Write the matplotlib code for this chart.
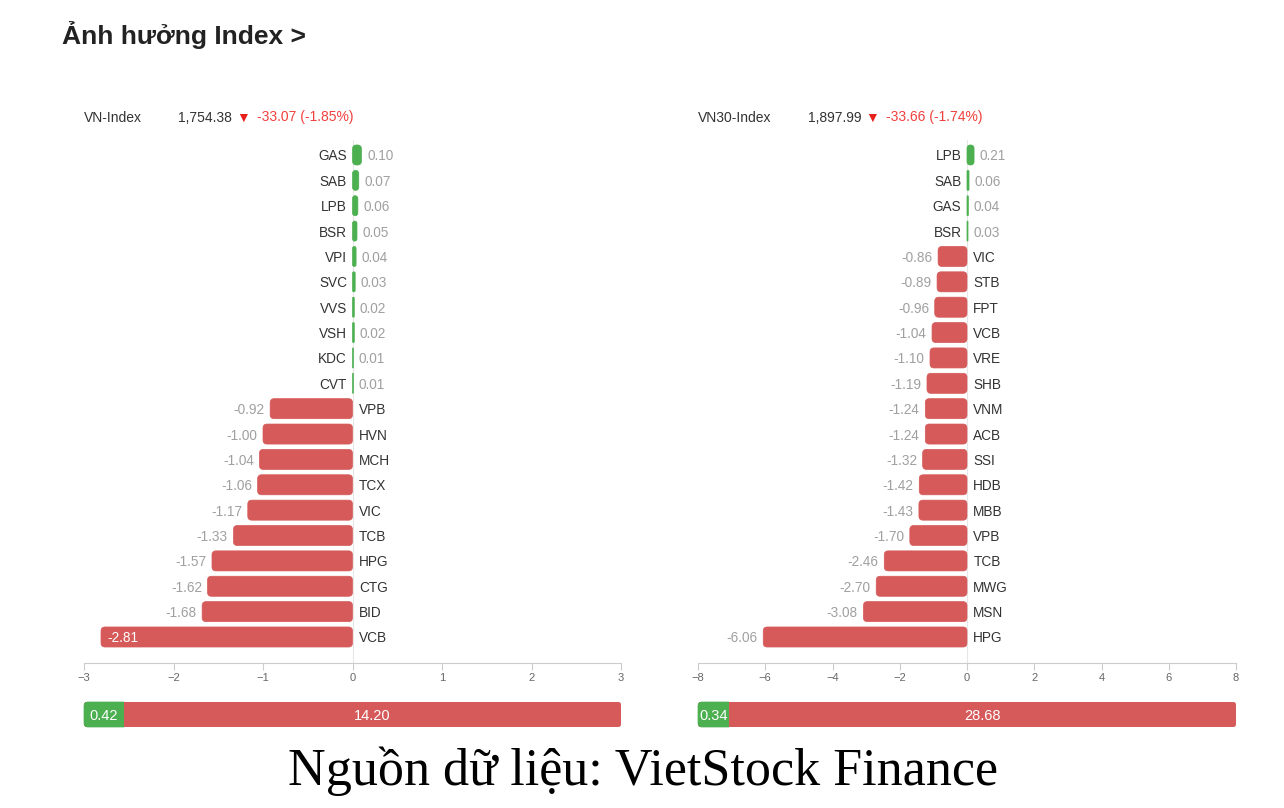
import matplotlib
matplotlib.use('Agg')
import matplotlib.pyplot as plt
from matplotlib.patches import FancyBboxPatch, Rectangle

plt.rcParams['font.family'] = ['Liberation Sans', 'DejaVu Sans']

# ---- data ----
vn_tickers = ['GAS', 'SAB', 'LPB', 'BSR', 'VPI', 'SVC', 'VVS', 'VSH', 'KDC', 'CVT',
              'VPB', 'HVN', 'MCH', 'TCX', 'VIC', 'TCB', 'HPG', 'CTG', 'BID', 'VCB']
vn_values = [0.10, 0.07, 0.06, 0.05, 0.04, 0.03, 0.02, 0.02, 0.01, 0.01,
             -0.92, -1.00, -1.04, -1.06, -1.17, -1.33, -1.57, -1.62, -1.68, -2.81]

vn30_tickers = ['LPB', 'SAB', 'GAS', 'BSR', 'VIC', 'STB', 'FPT', 'VCB', 'VRE', 'SHB',
                'VNM', 'ACB', 'SSI', 'HDB', 'MBB', 'VPB', 'TCB', 'MWG', 'MSN', 'HPG']
vn30_values = [0.21, 0.06, 0.04, 0.03, -0.86, -0.89, -0.96, -1.04, -1.10, -1.19,
               -1.24, -1.24, -1.32, -1.42, -1.43, -1.70, -2.46, -2.70, -3.08, -6.06]

index_names = ['VN-Index', 'VN30-Index']
index_levels = ['1,754.38', '1,897.99']
index_changes = ['-33.07 (-1.85%)', '-33.66 (-1.74%)']
up_totals = [0.42, 0.34]
down_totals = [14.20, 28.68]
x_limits = [3, 8]

RED = '#d65a5a'
GREEN = '#4caf50'
W, H = 1284, 808


def fx(px):
    return px / W


def fy(py):
    return 1 - py / H


def rounded(ax, rect, color, radius_px):
    # swap a plain bar for a rounded one with the same geometry
    x0, y0 = ax.transData.transform((0, 0))
    x1, y1 = ax.transData.transform((1, 1))
    px, py = abs(x1 - x0), abs(y1 - y0)
    x, y, w, h = rect.get_x(), rect.get_y(), rect.get_width(), rect.get_height()
    if w < 0:
        x, w = x + w, -w
    r = min(radius_px / px, w / 2)
    p = FancyBboxPatch((x, y), w, h, boxstyle=f'round,pad=0,rounding_size={r}',
                       mutation_aspect=px / py, facecolor=color, edgecolor=color,
                       linewidth=0.5, zorder=3)
    ax.add_patch(p)
    rect.set_visible(False)
    return p


fig = plt.figure(figsize=(W / 100, H / 100), dpi=100)

fig.text(fx(62), fy(35), 'Ảnh hưởng Index >', fontsize=19, fontweight='bold',
         color='#222222', va='center', ha='left')

panels = [(84, 621, vn_tickers, vn_values, 0.074, (178, 236, 257)),
          (698, 1236, vn30_tickers, vn30_values, 0.058, (808, 865, 886))]

for k, (x0, x1, tickers, values, min_share, hx) in enumerate(panels):
    # header
    fig.text(fx(x0), fy(116), index_names[k], fontsize=10, color='#333333', va='center_baseline')
    fig.text(fx(hx[0]), fy(116), index_levels[k], fontsize=10, color='#333333', va='center_baseline')
    fig.text(fx(hx[1]), fy(116), '▼', fontsize=10, color='#e8201c', va='center_baseline')
    fig.text(fx(hx[2]), fy(116), index_changes[k], fontsize=10, color='#f0403c', va='center_baseline')

    ax = fig.add_axes([fx(x0), fy(663), fx(x1 - x0), (663 - 140) / H])
    lim = x_limits[k]
    ax.set_xlim(-lim, lim)
    ax.set_ylim(20.025, -0.591)
    ax.set_xticks(range(-lim, lim + 1, 1 if lim <= 3 else 2))
    ax.set_yticks([])
    for s in ['top', 'left', 'right']:
        ax.spines[s].set_visible(False)
    ax.spines['bottom'].set_color('#cccccc')
    ax.tick_params(axis='x', direction='out', length=5, color='#cccccc',
                   labelcolor='#666666', labelsize=8, pad=2)
    ax.axvline(0, color='#e6e6e6', lw=0.8, zorder=1)

    pos = list(range(len(values)))
    bars = ax.barh(pos, values, height=0.79)
    for b, v, t, yy in zip(bars, values, tickers, pos):
        c = GREEN if v > 0 else RED
        rounded(ax, b, c, 4)
        lab = dict(va='center_baseline', fontsize=9.8, textcoords='offset points')
        if v > 0:
            ax.annotate(t, (0, yy), xytext=(-4, 0), ha='right', color='#333333', **lab)
            ax.annotate(f'{v:.2f}', (v, yy), xytext=(4, 0), ha='left', color='#a0a0a0', **lab)
        else:
            ax.annotate(t, (0, yy), xytext=(4.5, 0), ha='left', color='#333333', **lab)
            if v < -0.9 * lim:
                ax.annotate(f'{v:.2f}', (v, yy), xytext=(4.5, 0), ha='left',
                            color='white', zorder=5, **lab)
            else:
                ax.annotate(f'{v:.2f}', (v, yy), xytext=(-4, 0), ha='right',
                            color='#a0a0a0', **lab)

    # summary bar
    sx = fig.add_axes([fx(x0), fy(727), fx(x1 - x0), 25 / H])
    sx.set_xlim(0, 1)
    sx.set_ylim(-0.5, 0.5)
    sx.axis('off')
    share = up_totals[k] / (up_totals[k] + down_totals[k])
    g = max(share, min_share)
    red_bar = sx.barh([0], [1], height=1)[0]
    rounded(sx, red_bar, RED, 4)
    green_bar = sx.barh([0], [1], height=1)[0]
    gp = rounded(sx, green_bar, GREEN, 4)
    gp.set_zorder(4)
    gp.set_clip_path(Rectangle((-0.1, -1), g + 0.1, 2, transform=sx.transData))
    sx.text(g / 2, 0, f'{up_totals[k]:.2f}', ha='center', va='center_baseline',
            fontsize=10.5, color='white', zorder=5)
    sx.text(g + (1 - g) / 2, 0, f'{down_totals[k]:.2f}', ha='center', va='center_baseline',
            fontsize=10.5, color='white', zorder=5)

fig.text(fx(643), fy(785), 'Nguồn dữ liệu: VietStock Finance', fontsize=37.5,
         family='Liberation Serif', color='black', ha='center', va='baseline')

fig.savefig('out.png', dpi=100, facecolor='white')
